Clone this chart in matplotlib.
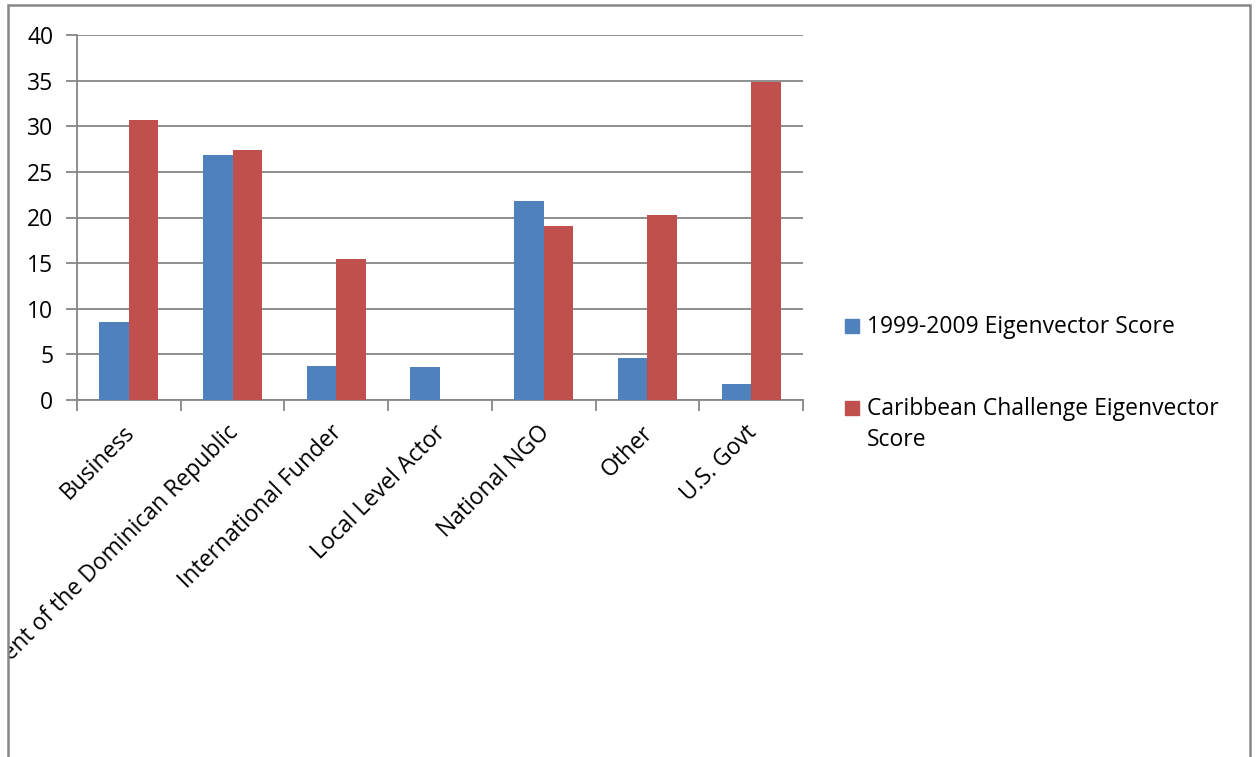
import matplotlib.pyplot as plt
import matplotlib.patches as mpatches
from matplotlib.transforms import Bbox, ScaledTranslation
import numpy as np

categories = ["Business", "Government of the Dominican Republic", "International Funder",
              "Local Level Actor", "National NGO", "Other", "U.S. Govt"]
score_1999_2009 = [8.6, 26.9, 3.7, 3.6, 21.8, 4.6, 1.7]
score_caribbean = [30.7, 27.4, 15.5, 0.0, 19.1, 20.3, 34.8]
series_labels = ["1999-2009 Eigenvector Score", "Caribbean Challenge Eigenvector\nScore"]
series_colors = ["#4f81bd", "#c0504d"]
y_ticks = [0, 5, 10, 15, 20, 25, 30, 35, 40]

plt.rcParams['font.family'] = ['Open Sans', 'DejaVu Sans']
FS = 16.5
W, H = 1257, 757
fig = plt.figure(figsize=(W / 100, H / 100), dpi=100)
ax = fig.add_axes([77 / W, 1 - 400 / H, (803 - 77) / W, (400 - 35) / H])

x = np.arange(len(categories))
bw = 0.285
ax.bar(x - bw / 2, score_1999_2009, bw, color=series_colors[0], zorder=3)
ax.bar(x + bw / 2, score_caribbean, bw, color=series_colors[1], zorder=3)

grid_c = "#868686"
ax.set_xlim(-0.5, len(categories) - 0.5)
ax.set_ylim(0, 40)
ax.set_yticks(y_ticks)
ax.set_yticklabels([str(t) for t in y_ticks], fontsize=FS)
ax.yaxis.grid(True, color=grid_c, linewidth=1.3, zorder=0)
for s in ["top", "right"]:
    ax.spines[s].set_visible(False)
for s in ["left", "bottom"]:
    ax.spines[s].set_color(grid_c)
    ax.spines[s].set_linewidth(1.3)
ax.tick_params(axis="y", length=8, width=1.3, color=grid_c, pad=9)

# category boundary ticks on x, labels at centres
ax.set_xticks(np.arange(len(categories) + 1) - 0.5)
ax.set_xticklabels([])
ax.tick_params(axis="x", length=8, width=1.3, color=grid_c)
ax.set_xticks(x, minor=True)
ax.set_xticklabels(categories, minor=True, rotation=45, ha="right",
                   rotation_mode="anchor", fontsize=FS)
ax.tick_params(axis="x", which="minor", length=0, pad=15)

# outer chart border
fig.patches.append(mpatches.Rectangle((8 / W, -0.1), (1250 - 8) / W, 1.1 - 5 / H,
                                      transform=fig.transFigure, fill=False,
                                      edgecolor="#878787", linewidth=1.8))

clip = Bbox.from_extents(9, -20, 1249, H - 6)
shift = ScaledTranslation(-6 / 100, 0, fig.dpi_scale_trans)
for lab in ax.get_xticklabels(minor=True):
    lab.set_transform(lab.get_transform() + shift)
    lab.set_clip_box(clip)
    lab.set_clip_on(True)

# legend
leg_y = [1 - 326 / H, 1 - 408 / H]
for lbl, col, yy in zip(series_labels, series_colors, leg_y):
    fig.patches.append(mpatches.Rectangle((845 / W, yy - 7 / H), 14 / W, 14 / H,
                                          transform=fig.transFigure, color=col))
    fig.text(867 / W, yy + 11 / H, lbl, fontsize=FS, va="top", linespacing=1.38)

fig.savefig("out.png", dpi=100)
